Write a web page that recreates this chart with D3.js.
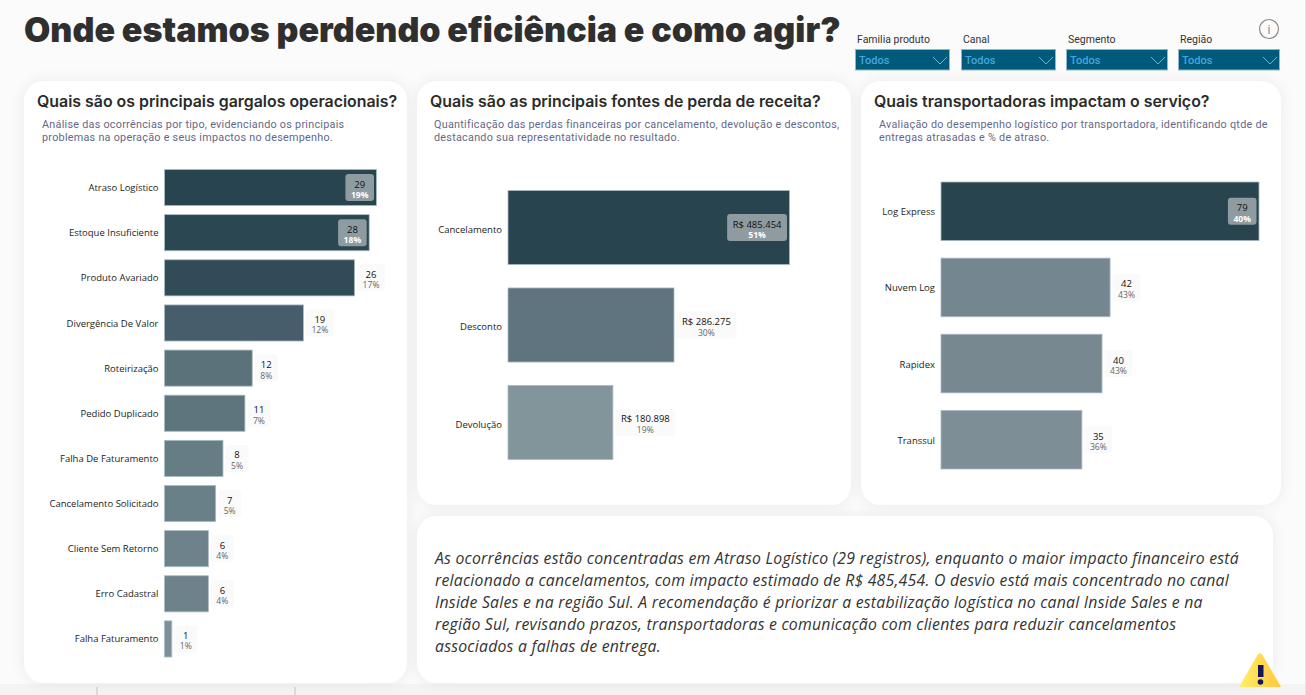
<!DOCTYPE html>
<html>
<head>
<meta charset="utf-8">
<script src="https://cdn.jsdelivr.net/npm/d3@7"></script>
<style>
  html, body { margin: 0; padding: 0; background: #fbfbfb; overflow: hidden; }
  svg { display: block; }
  .cat text { font-family: "Open Sans", sans-serif; font-size: 9.5px; fill: #1c1c1c; }
  .head { font-family: Inter, sans-serif; font-weight: 600; font-size: 15.9px; fill: #2b2b2b; }
  .sub { font-family: Roboto, sans-serif; font-size: 10.8px; fill: #636888; letter-spacing: .26px; }
  .val { font-family: "Open Sans", sans-serif; font-size: 9.5px; fill: #111; text-anchor: middle; }
  .pct { font-family: "Open Sans", sans-serif; font-size: 8.6px; fill: #666; text-anchor: middle; }
  .pct.in { fill: #fff; font-weight: 700; }
  .note { font-family: "Open Sans", sans-serif; font-style: italic; font-size: 15.8px; fill: #333; letter-spacing: .23px; }
</style>
</head>
<body>
<div id="chart"></div>
<script>
var svgWidth = 1306;
var svgHeight = 695;

// ocorrencias
var occCategories = ["Atraso Logístico", "Estoque Insuficiente", "Produto Avariado", "Divergência De Valor", "Roteirização", "Pedido Duplicado", "Falha De Faturamento", "Cancelamento Solicitado", "Cliente Sem Retorno", "Erro Cadastral", "Falha Faturamento"];
var occValues = [29, 28, 26, 19, 12, 11, 8, 7, 6, 6, 1];
var occPct = ["19%", "18%", "17%", "12%", "8%", "7%", "5%", "5%", "4%", "4%", "1%"];

// perdas
var lossCategories = ["Cancelamento", "Desconto", "Devolução"];
var lossValues = [485454, 286275, 180898];
var lossLabels = ["R$ 485.454", "R$ 286.275", "R$ 180.898"];
var lossPct = ["51%", "30%", "19%"];

// transportadoras
var carrierCategories = ["Log Express", "Nuvem Log", "Rapidex", "Transsul"];
var carrierValues = [79, 42, 40, 35];
var carrierPct = ["40%", "43%", "43%", "36%"];

var filterNames = ["Familia produto", "Canal", "Segmento", "Região"];
var filterValue = "Todos";

var noteLines = [
  "As ocorrências estão concentradas em Atraso Logístico (29 registros), enquanto o maior impacto financeiro está",
  "relacionado a cancelamentos, com impacto estimado de R$ 485,454. O desvio está mais concentrado no canal",
  "Inside Sales e na região Sul. A recomendação é priorizar a estabilização logística no canal Inside Sales e na",
  "região Sul, revisando prazos, transportadoras e comunicação com clientes para reduzir cancelamentos",
  "associados a falhas de entrega."
];

var svg = d3.select("#chart")
  .append("svg")
  .attr("width", svgWidth)
  .attr("height", svgHeight);

var defs = svg.append("defs");

// sombra suave dos cards
defs.append("filter")
  .attr("id", "soft")
  .attr("x", "-10%").attr("y", "-10%").attr("width", "120%").attr("height", "120%")
  .append("feDropShadow")
  .attr("dx", 0).attr("dy", 0).attr("stdDeviation", 7)
  .attr("flood-color", "#000").attr("flood-opacity", .07);

// rodape e borda direita
svg.append("rect").attr("y", 684).attr("width", svgWidth).attr("height", 11).attr("fill", "#f4f4f4");
svg.append("line").attr("x1", 1305.5).attr("x2", 1305.5).attr("y1", 0).attr("y2", svgHeight).attr("stroke", "#e2e2e2");
[97, 295].forEach(function(x) {
  svg.append("line").attr("x1", x).attr("x2", x).attr("y1", 687).attr("y2", 695).attr("stroke", "#c4c4c4");
});

// cards
function card(x, y, w, h) {
  svg.append("rect")
    .attr("x", x).attr("y", y).attr("width", w).attr("height", h)
    .attr("rx", 20).attr("fill", "#fff")
    .attr("filter", "url(#soft)");
}
card(24, 81, 383, 602);
card(417, 81, 434, 424);
card(861, 81, 420, 424);
card(417, 516, 856, 167);

// titulo
svg.append("text")
  .attr("x", 24).attr("y", 42)
  .style("font-family", "Inter, sans-serif")
  .style("font-weight", 900)
  .style("font-size", "34px")
  .attr("fill", "#2f2f2f")
  .text("Onde estamos perdendo eficiência e como agir?");

// filtros
var filterX = [855, 961, 1066, 1178];
var filterW = [94, 94, 101, 101];
filterNames.forEach(function(name, i) {
  var g = svg.append("g").attr("transform", `translate(${filterX[i]}, 49)`);
  g.append("text").attr("x", 2).attr("y", -6)
    .style("font-family", "Roboto, sans-serif").style("font-size", "10.5px")
    .attr("fill", "#333").text(name);
  g.append("rect").attr("x", .5).attr("y", .5).attr("width", filterW[i]).attr("height", 20.5)
    .attr("fill", "#005a7c").attr("stroke", "#8db7c6");
  g.append("text").attr("x", 4).attr("y", 15)
    .style("font-family", "Roboto, sans-serif").style("font-size", "11px").style("font-weight", 500)
    .attr("fill", "#46a6dc").text(filterValue);
  g.append("path")
    .attr("d", `M${filterW[i] - 16},8 l7,7 l7,-7`)
    .attr("fill", "none").attr("stroke", "#6db3d6");
});

// icone info
svg.append("circle").attr("cx", 1269).attr("cy", 29).attr("r", 9.5)
  .attr("fill", "none").attr("stroke", "#8a8a8a").attr("stroke-width", 1.2);
svg.append("text").attr("x", 1269).attr("y", 33.5).attr("text-anchor", "middle")
  .style("font-family", "Roboto, sans-serif").style("font-size", "12px").attr("fill", "#8a8a8a").text("i");

// grafico de barras horizontal
function barChart(opt) {
  var x = d3.scaleLinear().domain([0, d3.max(opt.values)]).range([opt.x0, opt.x1]);
  var y = d3.scaleBand().domain(opt.categories).range(opt.yRange).paddingInner(opt.padding).paddingOuter(0);
  var color = d3.scaleLinear().domain(opt.colorDomain).range(opt.colorRange).clamp(true);

  var g = svg.append("g");

  g.append("text").attr("class", "head").attr("x", opt.headX).attr("y", 107).text(opt.title);
  opt.sub.forEach(function(t, i) {
    g.append("text").attr("class", "sub").attr("x", opt.subX).attr("y", 128 + i * 13).text(t);
  });

  g.append("g")
    .attr("class", "cat")
    .attr("transform", `translate(${opt.x0}, ${opt.labelDy})`)
    .call(d3.axisLeft(y).tickSize(0).tickPadding(6))
    .call(function(a) { a.select(".domain").remove(); });

  var rows = opt.categories.map(function(c, i) {
    return { cat: c, value: opt.values[i], label: opt.labels[i], pct: opt.pct[i], inside: i < opt.insideCount };
  });

  g.selectAll("rect.bar")
    .data(rows)
    .enter()
    .append("rect")
    .attr("class", "bar")
    .attr("x", opt.x0)
    .attr("y", d => y(d.cat))
    .attr("width", d => x(d.value) - opt.x0)
    .attr("height", y.bandwidth())
    .attr("fill", d => color(d.value))
    .attr("stroke", "#a9bcc4")
    .attr("stroke-width", .8);

  // rotulo com fundo, largura vem do texto
  rows.forEach(function(d) {
    var chip = g.append("rect").attr("rx", 3).attr("fill", d.inside ? "#8e9ba1" : "#fafafa");
    var val = g.append("text").attr("class", "val").text(d.label);
    var pct = g.append("text").attr("class", d.inside ? "pct in" : "pct").text(d.pct);
    var w = Math.max(val.node().getComputedTextLength(), pct.node().getComputedTextLength()) + 11;
    var cx = d.inside ? x(d.value) - 2.5 - w / 2 : x(d.value) + 2.5 + w / 2;
    var cy = y(d.cat) + y.bandwidth() / 2;
    chip.attr("x", cx - w / 2).attr("y", cy - 13.5).attr("width", w).attr("height", 27);
    val.attr("x", cx).attr("y", cy);
    pct.attr("x", cx).attr("y", cy + 10.5);
  });
}

barChart({
  title: "Quais são os principais gargalos operacionais?",
  sub: ["Análise das ocorrências por tipo, evidenciando os principais", "problemas na operação e seus impactos no desempenho."],
  headX: 37, subX: 42,
  categories: occCategories, values: occValues, labels: occValues, pct: occPct,
  x0: 164.5, x1: 376.5, yRange: [169.5, 657], padding: .2, labelDy: .5,
  colorDomain: [1, 12, 19, 29], colorRange: ["#7b9099", "#5c727b", "#475d6b", "#28454f"],
  insideCount: 2
});

barChart({
  title: "Quais são as principais fontes de perda de receita?",
  sub: ["Quantificação das perdas financeiras por cancelamento, devolução e descontos,", "destacando sua representatividade no resultado."],
  headX: 430, subX: 434,
  categories: lossCategories, values: lossValues, labels: lossLabels, pct: lossPct,
  x0: 508, x1: 789.5, yRange: [190.5, 459.5], padding: .24, labelDy: 2,
  colorDomain: [180898, 286275, 485454], colorRange: ["#82959b", "#5f747e", "#28454f"],
  insideCount: 1
});

barChart({
  title: "Quais transportadoras impactam o serviço?",
  sub: ["Avaliação do desempenho logístico por transportadora, identificando qtde de", "entregas atrasadas e % de atraso."],
  headX: 874, subX: 879,
  categories: carrierCategories, values: carrierValues, labels: carrierValues, pct: carrierPct,
  x0: 941, x1: 1259, yRange: [182, 469], padding: .23, labelDy: 1,
  colorDomain: [35, 42, 79], colorRange: ["#7d8e96", "#74868f", "#28454f"],
  insideCount: 1
});

// texto da analise
svg.selectAll("text.note")
  .data(noteLines)
  .enter()
  .append("text")
  .attr("class", "note")
  .attr("x", 435)
  .attr("y", (d, i) => 564 + i * 22)
  .text(d => d);

// alerta
var alert = svg.append("g");
var grad = defs.append("linearGradient").attr("id", "warn");
grad.append("stop").attr("offset", "0%").attr("stop-color", "#ffee6a");
grad.append("stop").attr("offset", "100%").attr("stop-color", "#ffc83c");
alert.append("path")
  .attr("d", "M1257.5,655 Q1260,651.5 1262.5,655 L1281,687 L1239,687 Z")
  .attr("fill", "url(#warn)");
alert.append("rect").attr("x", 1258).attr("y", 665).attr("width", 5.5).attr("height", 12).attr("fill", "#15155c");
alert.append("circle").attr("cx", 1260.5).attr("cy", 682).attr("r", 2.8).attr("fill", "#15155c");
</script>
</body>
</html>
